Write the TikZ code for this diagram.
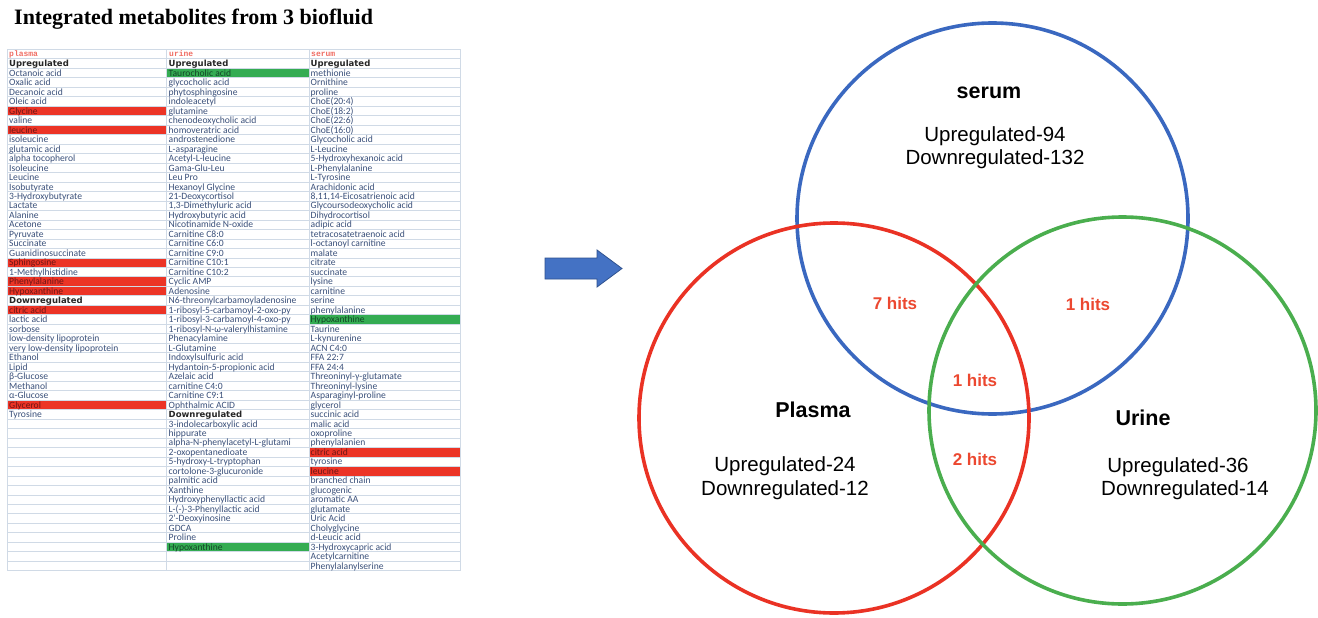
\documentclass[tikz,border=0pt]{standalone}
\usepackage{fontspec}
\setmainfont{Liberation Sans}
\newfontfamily\tabfont{Carlito}
\newfontfamily\hdfont{DejaVu Sans}
\newfontfamily\ttlfont{Liberation Serif}
\newfontfamily\colfont{Liberation Mono}
\definecolor{txtc}{RGB}{58,80,122}
\definecolor{gridc}{RGB}{208,218,230}
\definecolor{redc}{RGB}{236,52,38}
\definecolor{greenc}{RGB}{52,172,82}
\definecolor{redtxt}{RGB}{110,22,22}
\definecolor{greentxt}{RGB}{20,70,40}
\definecolor{salmon}{RGB}{240,110,100}
\definecolor{blueC}{RGB}{58,104,192}
\definecolor{redC}{RGB}{234,50,36}
\definecolor{greenC}{RGB}{74,174,78}
\definecolor{hitc}{RGB}{236,72,48}
\definecolor{arrowf}{RGB}{68,114,196}
\definecolor{arrowd}{RGB}{47,82,143}
\newcommand\hdr[1]{{\hdfont\bfseries\fontsize{8.5}{8.5}\selectfont\color{black!85}#1}}
\newcommand\rtx[1]{\textcolor{redtxt}{#1}}
\newcommand\gtx[1]{\textcolor{greentxt}{#1}}
\begin{document}
\begin{tikzpicture}[x=1pt,y=-1pt,
  cell/.style={anchor=base west,inner sep=0pt,font=\tabfont\fontsize{9.6}{9.6}\selectfont,text=txtc},
  colhead/.style={anchor=base west,inner sep=0pt,font=\colfont\bfseries\fontsize{8}{8}\selectfont,text=salmon},
  gridline/.style={draw=gridc,line width=0.6pt},
  redcell/.style={fill=redc},
  greencell/.style={fill=greenc},
  circ/.style={line width=3.6pt},
  biglabel/.style={font=\bfseries\fontsize{21.5}{21.5}\selectfont,inner sep=0pt},
  countlabel/.style={font=\fontsize{20.5}{20.5}\selectfont,inner sep=0pt},
  hitlabel/.style={font=\bfseries\fontsize{17}{17}\selectfont,text=hitc,inner sep=0pt}]
\useasboundingbox (0,0) rectangle (1318,618);
\fill[white] (0,0) rectangle (1318,618);
% title
\node[anchor=west,inner sep=0pt,font=\ttlfont\bfseries\fontsize{22}{22}\selectfont] (title) at (14,19) {Integrated metabolites from 3 biofluid};
% cell fills
\foreach \r in {6,8,22,24,25,27,37}
  \fill[redcell] (7,{54+9.48*\r-4.74}) rectangle (166,{54+9.48*\r+4.74});
\foreach \r in {2,52}
  \fill[greencell] (166,{54+9.48*\r-4.74}) rectangle (309,{54+9.48*\r+4.74});
\fill[greencell] (309,{54+9.48*28-4.74}) rectangle (460,{54+9.48*28+4.74});
\foreach \r in {42,44}
  \fill[redcell] (309,{54+9.48*\r-4.74}) rectangle (460,{54+9.48*\r+4.74});
% grid
\foreach \r in {0,...,55}
  \draw[gridline] (7,{49.26+9.48*\r}) -- (460,{49.26+9.48*\r});
\foreach \cx in {7,166,309,460}
  \draw[gridline] (\cx,49.26) -- (\cx,570.66);
% column heads
\node[colhead] (hplasma) at (9,57) {plasma};
\node[colhead] (hurine) at (169,57) {urine};
\node[colhead] (hserum) at (311,57) {serum};
% plasma column
\begin{scope}
\clip (7,49) rectangle (165.5,571);
\foreach \t [count=\i from 1] in {\hdr{Upregulated}, Octanoic acid, Oxalic acid, Decanoic acid, Oleic acid, \rtx{Glycine}, valine, \rtx{leucine}, isoleucine, glutamic acid, alpha tocopherol, Isoleucine, Leucine, Isobutyrate, 3-Hydroxybutyrate, Lactate, Alanine, Acetone, Pyruvate, Succinate, Guanidinosuccinate, \rtx{Sphingosine}, 1-Methylhistidine, \rtx{Phenylalanine}, \rtx{Hypoxanthine}, \hdr{Downregulated}, \rtx{citric acid}, lactic acid, sorbose, low-density lipoprotein, very low-density lipoprotein, Ethanol, Lipid, β-Glucose, Methanol, α-Glucose, \rtx{Glycerol}, Tyrosine}
  \node[cell] (pl\i) at (9,{57.3+9.48*\i}) {\t};
\end{scope}
% urine column
\begin{scope}
\clip (166,49) rectangle (308.5,571);
\foreach \t [count=\i from 1] in {\hdr{Upregulated}, \gtx{Taurocholic acid}, glycocholic acid, phytosphingosine, indoleacetyl, glutamine, chenodeoxycholic acid, homoveratric acid, androstenedione, L-asparagine, Acetyl-L-leucine, Gama-Glu-Leu, Leu Pro, Hexanoyl Glycine, 21-Deoxycortisol, {1,3-Dimethyluric acid}, Hydroxybutyric acid, Nicotinamide N-oxide, Carnitine C8:0, Carnitine C6:0, Carnitine C9:0, Carnitine C10:1, Carnitine C10:2, Cyclic AMP, Adenosine, N6-threonylcarbamoyladenosine, 1-ribosyl-5-carbamoyl-2-oxo-py, 1-ribosyl-3-carbamoyl-4-oxo-py, 1-ribosyl-N-ω-valerylhistamine, Phenacylamine, L-Glutamine, Indoxylsulfuric acid, Hydantoin-5-propionic acid, Azelaic acid, carnitine C4:0, Carnitine C9:1, Ophthalmic ACID, \hdr{Downregulated}, 3-indolecarboxylic acid, hippurate, alpha-N-phenylacetyl-L-glutami, 2-oxopentanedioate, 5-hydroxy-L-tryptophan, cortolone-3-glucuronide, palmitic acid, Xanthine, Hydroxyphenyllactic acid, L-(-)-3-Phenyllactic acid, 2'-Deoxyinosine, GDCA, Proline, \gtx{Hypoxanthine}}
  \node[cell] (ur\i) at (168.5,{57.3+9.48*\i}) {\t};
\end{scope}
% serum column
\begin{scope}
\clip (309,49) rectangle (460,571);
\foreach \t [count=\i from 1] in {\hdr{Upregulated}, methionie, Ornithine, proline, ChoE(20:4), ChoE(18:2), ChoE(22:6), ChoE(16:0), Glycocholic acid, L-Leucine, 5-Hydroxyhexanoic acid, L-Phenylalanine, L-Tyrosine, Arachidonic acid, {8,11,14-Eicosatrienoic acid}, Glycoursodeoxycholic acid, Dihydrocortisol, adipic acid, tetracosatetraenoic acid, l-octanoyl carnitine, malate, citrate, succinate, lysine, carnitine, serine, phenylalanine, \gtx{Hypoxanthine}, Taurine, L-kynurenine, ACN C4:0, FFA 22:7, FFA 24:4, Threoninyl-γ-glutamate, Threoninyl-lysine, Asparaginyl-proline, glycerol, succinic acid, malic acid, oxoproline, phenylalanien, \rtx{citric acid}, tyrosine, \rtx{leucine}, branched chain, glucogenic, aromatic AA, glutamate, Uric Acid, Cholyglycine, d-Leucic acid, 3-Hydroxycapric acid, Acetylcarnitine, Phenylalanylserine}
  \node[cell] (se\i) at (310.5,{57.3+9.48*\i}) {\t};
\end{scope}
% arrow
\filldraw[fill=arrowf,draw=arrowd,line width=0.8pt,line join=miter]
  (545,258) -- (597,258) -- (597,250) -- (622,268.5) -- (597,287) -- (597,279) -- (545,279) -- cycle;
% venn circles
\draw[circ,draw=blueC] (992.5,218.5) circle[radius=195.5pt];
\draw[circ,draw=redC] (834,418) circle[radius=195pt];
\draw[circ,draw=greenC] (1122.5,410.5) circle[radius=193.5pt];
% labels
\node[biglabel] (serum) at (989,93) {serum};
\node[countlabel] (sup) at (995,136) {Upregulated-94};
\node[countlabel] (sdown) at (995,159) {Downregulated-132};
\node[biglabel] (plasma) at (813,410) {Plasma};
\node[countlabel] (pup) at (785,466) {Upregulated-24};
\node[countlabel] (pdown) at (785,490) {Downregulated-12};
\node[biglabel] (urine) at (1143,418) {Urine};
\node[countlabel] (uup) at (1178,467) {Upregulated-36};
\node[countlabel] (udown) at (1185,490) {Downregulated-14};
\node[hitlabel] (h7) at (895,303) {7 hits};
\node[hitlabel] (h1a) at (1088,304) {1 hits};
\node[hitlabel] (h1b) at (975,380) {1 hits};
\node[hitlabel] (h2) at (975,459) {2 hits};
\end{tikzpicture}
\end{document}
